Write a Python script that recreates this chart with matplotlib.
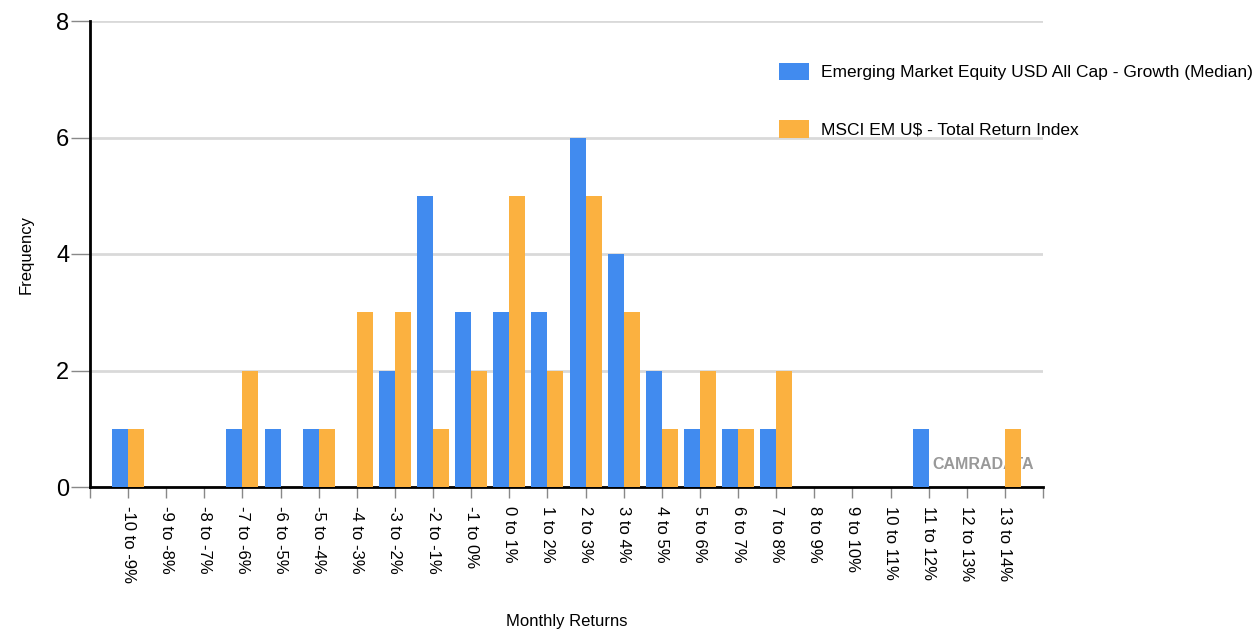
import numpy as np
import matplotlib
matplotlib.use("Agg")
from matplotlib import pyplot as plt

plt.rcParams['font.family'] = ['Liberation Sans', 'DejaVu Sans']

categories = ['-10 to -9%', '-9 to -8%', '-8 to -7%', '-7 to -6%', '-6 to -5%',
              '-5 to -4%', '-4 to -3%', '-3 to -2%', '-2 to -1%', '-1 to 0%',
              '0 to 1%', '1 to 2%', '2 to 3%', '3 to 4%', '4 to 5%', '5 to 6%',
              '6 to 7%', '7 to 8%', '8 to 9%', '9 to 10%', '10 to 11%',
              '11 to 12%', '12 to 13%', '13 to 14%']
fund = [1, 0, 0, 1, 1, 1, 0, 2, 5, 3, 3, 3, 6, 4, 2, 1, 1, 1, 0, 0, 0, 1, 0, 0]
index = [1, 0, 0, 2, 0, 1, 3, 3, 1, 2, 5, 2, 5, 3, 1, 2, 1, 2, 0, 0, 0, 0, 0, 1]
fundName = 'Emerging Market Equity USD All Cap - Growth (Median)'
indexName = 'MSCI EM U$ - Total Return Index'

blue = '#418bef'
orange = '#fbb140'

fig = plt.figure(figsize=(12.58, 6.34), dpi=100)
ax = fig.add_axes([90/1258, 1 - 487/634, (1043-90)/1258, (487-21)/634])

x = np.arange(len(categories))
w = 0.42
ax.bar(x - w/2, fund, w, color=blue, label=fundName, zorder=3)
ax.bar(x + w/2, index, w, color=orange, label=indexName, zorder=3)

ax.set_xlim(-1, len(categories))
ax.set_ylim(0, 8)
ax.set_yticks([0, 2, 4, 6, 8])
ax.yaxis.grid(True, color='#d9d9d9', linewidth=2, zorder=0)
ax.set_axisbelow(True)

ax.set_xticks(np.arange(-1, len(categories) + 1))
ax.set_xticklabels([''] + categories + [''], rotation=270, fontsize=12)
ax.tick_params(axis='x', length=8, color='#888888', width=1, pad=6)
ax.tick_params(axis='y', length=14, color='#888888', width=1, labelsize=17, pad=1)

for s in ['top', 'right']:
    ax.spines[s].set_visible(False)
ax.spines['left'].set_linewidth(2)
ax.spines['bottom'].set_linewidth(2)

ax.set_ylabel('Frequency', fontsize=12, labelpad=16)
ax.set_xlabel('Monthly Returns', fontsize=12, labelpad=22)

# watermark sits behind the bars
ax.text(21.1, 0.38, 'CAMRADATA', color='#999999', fontsize=11.5,
        fontweight='bold', ha='left', va='center', zorder=1)

fig.legend(loc='upper left', bbox_to_anchor=(772/1258, 1 - 56/634),
           frameon=False, fontsize=12.5, handlelength=1.75, handleheight=1.15,
           labelspacing=2.3, handletextpad=0.7, borderaxespad=0)

fig.savefig('out.png', dpi=100)
